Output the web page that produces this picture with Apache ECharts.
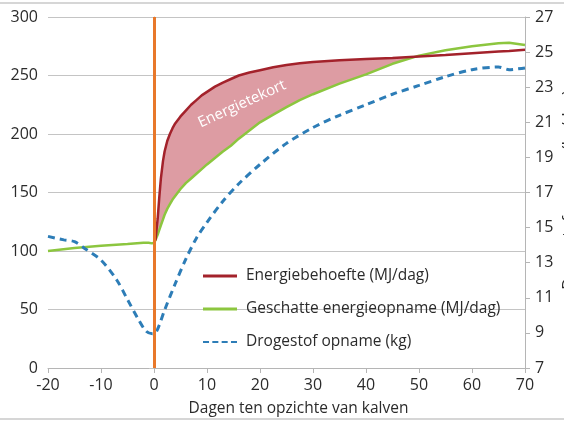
<!DOCTYPE html>
<html>
<head>
<meta charset="utf-8">
<script src="https://cdn.jsdelivr.net/npm/echarts@6/dist/echarts.min.js"></script>
<style>
  html, body { margin: 0; padding: 0; background: #fff; }
  #chart { width: 564px; height: 423px; }
</style>
</head>
<body>
<div id="chart"></div>
<script>
// dagen ten opzichte van kalven (na kalven)
const dagenNa = [0, 0.3, 0.7, 1, 1.3, 1.7, 2, 2.5, 3, 3.5, 4, 5, 6, 7, 8, 9, 10, 11.5, 13, 14.5, 16, 18, 20, 22.5, 25, 27.5, 30, 35, 40, 45, 50, 55, 60, 65, 67, 70];
const energiebehoefte = [107, 110, 128, 146, 162, 177, 185, 194, 200, 205, 209, 215, 220, 225, 229, 233, 236, 240.5, 244, 247, 250, 252.5, 254.5, 257, 259, 260.5, 261.5, 263, 264, 265, 266.3, 267.5, 269, 270.5, 271, 272];
const opnameNa = [107, 109.5, 114, 118, 122, 127, 131, 136, 140, 144, 147, 153, 158, 162, 166, 170, 174, 179.5, 185, 190, 196, 203, 210, 216.5, 223, 229, 234, 243, 251, 260, 267, 271.5, 275, 277.5, 278, 276];

// voor kalven
const dagenVoor = [-20, -15, -10, -5, -2, -1, -0.4];
const opnameVoor = [100, 102.5, 104.5, 106, 107, 107, 106.5];

// drogestof opname (kg)
const dagenDs = [-20, -17, -15, -13, -10, -7, -5, -3, -1.5, -0.3, 0.3, 1, 2, 4, 6, 8, 10, 13, 16, 20, 25, 30, 35, 40, 45, 50, 55, 60, 65, 67, 70];
const drogestof = [14.5, 14.3, 14.2, 13.8, 13.15, 12.0, 10.9, 9.8, 9.1, 8.95, 9.0, 9.45, 10.3, 11.8, 13.2, 14.4, 15.3, 16.5, 17.5, 18.6, 19.8, 20.7, 21.4, 22.0, 22.6, 23.1, 23.6, 24.0, 24.15, 24.0, 24.1];

const rechtsTicks = [7, 9, 11, 13, 15, 17, 19, 21, 23, 25, 27];

const FONT = 'Open Sans';
const TXT = '#2b2b2b';
const ROOD = '#a3222b';
const GROEN = '#8cc63f';
const BLAUW = '#2d7db7';

const zip = (xs, ys) => xs.map((x, i) => [x, ys[i]]);
const opnameAll = zip(dagenVoor, opnameVoor).concat(zip(dagenNa, opnameNa));

// polygon tussen behoefte en opname, tot het snijpunt
function renderTekort(params, api) {
  if (params.dataIndex !== 0) return;
  const boven = [], onder = [];
  for (let i = 0; i < dagenNa.length; i++) {
    const r = energiebehoefte[i], g = opnameNa[i];
    if (r >= g) {
      boven.push(api.coord([dagenNa[i], r]));
      onder.push(api.coord([dagenNa[i], g]));
    } else {
      const j = i - 1;
      const d0 = energiebehoefte[j] - opnameNa[j], d1 = r - g;
      const t = d0 / (d0 - d1);
      const x = dagenNa[j] + t * (dagenNa[i] - dagenNa[j]);
      const y = energiebehoefte[j] + t * (r - energiebehoefte[j]);
      boven.push(api.coord([x, y]));
      break;
    }
  }
  return {
    type: 'polygon',
    shape: { points: boven.concat(onder.reverse()) },
    style: { fill: '#dd9ca3' },
    silent: true
  };
}

const chart = echarts.init(document.getElementById('chart'));
chart.setOption({
  animation: false,
  textStyle: { fontFamily: FONT },
  grid: { left: 48, right: 39, top: 17, bottom: 55 },
  legend: {
    orient: 'vertical',
    left: 198,
    top: 263,
    itemWidth: 34,
    itemHeight: 3,
    itemGap: 17,
    data: [
      { name: 'Energiebehoefte (MJ/dag)', icon: 'rect' },
      { name: 'Geschatte energieopname (MJ/dag)', icon: 'rect' },
      { name: 'Drogestof opname (kg)', icon: 'path://M0 0h6v2h-6zM9.3 0h6v2h-6zM18.6 0h6v2h-6zM27.9 0h6v2h-6z' }
    ],
    textStyle: { fontFamily: FONT, fontSize: 15.5, color: TXT, padding: [0, 0, 0, 4] }
  },
  xAxis: {
    type: 'value',
    min: -20, max: 70, interval: 10,
    name: 'Dagen ten opzichte van kalven',
    nameLocation: 'middle',
    nameGap: 33,
    nameTextStyle: { fontFamily: FONT, fontSize: 15.5, color: TXT, padding: [0, 0, 0, 24] },
    axisLine: { lineStyle: { color: '#b5b5b5' } },
    axisTick: { show: true, length: 5, lineStyle: { color: '#b5b5b5' } },
    axisLabel: { fontFamily: FONT, fontSize: 16, color: TXT, margin: 9 },
    splitLine: { show: false }
  },
  yAxis: [
    {
      type: 'value',
      min: 0, max: 300, interval: 50,
      axisLine: { show: true, lineStyle: { color: '#b5b5b5' } },
      axisTick: { show: true, length: 5, lineStyle: { color: '#c4c4c4' } },
      axisLabel: { fontFamily: FONT, fontSize: 16, color: TXT, margin: 10 },
      splitLine: { lineStyle: { color: '#c4c4c4' } }
    },
    {
      type: 'value',
      min: 7, max: 27,
      position: 'right',
      axisLine: { show: true, lineStyle: { color: '#b5b5b5' } },
      axisTick: { show: true, length: 5, customValues: rechtsTicks, lineStyle: { color: '#b5b5b5' } },
      axisLabel: { fontFamily: FONT, fontSize: 16, color: TXT, margin: 10, customValues: rechtsTicks },
      splitLine: { show: false }
    }
  ],
  series: [
    {
      name: 'Energietekort',
      type: 'custom',
      renderItem: renderTekort,
      data: zip(dagenNa, energiebehoefte),
      silent: true,
      z: 1
    },
    {
      name: 'Geschatte energieopname (MJ/dag)',
      type: 'line',
      data: opnameAll,
      symbol: 'none',
      itemStyle: { color: GROEN },
      lineStyle: { color: GROEN, width: 2.5 },
      z: 3
    },
    {
      name: 'Energiebehoefte (MJ/dag)',
      type: 'line',
      data: zip(dagenNa, energiebehoefte),
      symbol: 'none',
      itemStyle: { color: ROOD },
      lineStyle: { color: ROOD, width: 2.5 },
      z: 3
    },
    {
      name: 'Drogestof opname (kg)',
      type: 'line',
      yAxisIndex: 1,
      data: zip(dagenDs, drogestof),
      smooth: 0.3,
      symbol: 'none',
      itemStyle: { color: BLAUW },
      lineStyle: { color: BLAUW, width: 3, type: [7, 5] },
      z: 3,
      markLine: {
        silent: true,
        symbol: ['none', 'none'],
        label: { show: false },
        lineStyle: { color: '#e8782a', width: 3, type: 'solid' },
        data: [{ xAxis: 0 }]
      }
    }
  ],
  graphic: [
    { type: 'line', shape: { x1: 0, y1: 3, x2: 564, y2: 3 }, style: { stroke: '#c8c8c8', lineWidth: 1.5 } },
    { type: 'line', shape: { x1: 0, y1: 419, x2: 564, y2: 419 }, style: { stroke: '#c8c8c8', lineWidth: 1.5 } },
    {
      type: 'text', x: 242, y: 104, rotation: 0.43, z: 10,
      style: { text: 'Energietekort', fill: '#fff', font: '15px "Open Sans"', align: 'center', verticalAlign: 'middle' }
    },
    {
      type: 'text', x: -2, y: 180, rotation: Math.PI / 2,
      style: { text: 'Energie (MJ/dag)', fill: TXT, font: '16px "Open Sans"', align: 'center', verticalAlign: 'bottom' }
    },
    {
      type: 'text', x: 561, y: 190, rotation: Math.PI / 2,
      style: { text: 'Drogestofopname (kg/dag)', fill: TXT, font: '16px "Open Sans"', align: 'center', verticalAlign: 'top' }
    }
  ]
});
</script>
</body>
</html>
